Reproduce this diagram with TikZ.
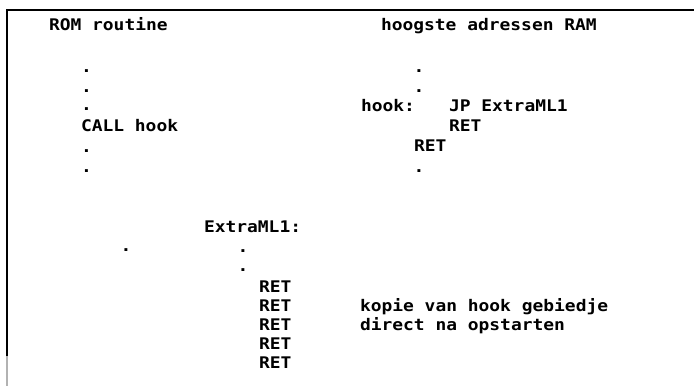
\documentclass[tikz,border=0pt]{standalone}
\usepackage{fontspec}
\newfontfamily\msxfont[FakeStretch=1.12]{DejaVu Sans Mono}
\usepackage{tikz}
\usetikzlibrary{positioning}
\tikzstyle{crt}=[anchor=base west, inner sep=0pt, outer sep=0pt, font=\msxfont\bfseries\fontsize{16}{16}\selectfont]

\begin{document}
\begin{tikzpicture}[x=1pt,y=-1pt]
			\useasboundingbox (0,0) rectangle (694,386);
			% frame of the screen print
			\draw[line width=2pt] (694,10) -- (7,10) -- (7,356);
			\draw[line width=2pt,gray!60] (7,356) -- (7,386);

			% ROM side
			\node[crt] (romlbl) at (49,30) {ROM routine};
			\node[crt] (romdot1) at (81,72) {.};
			\node[crt] (romdot2) at (81,92) {.};
			\node[crt] (romdot3) at (81,110) {.};
			\node[crt] (call) at (81,131) {CALL hook};
			\node[crt] (romdot4) at (81,152) {.};
			\node[crt] (romdot5) at (81,172) {.};

			% RAM side
			\node[crt] (ramlbl) at (381,30) {hoogste adressen RAM};
			\node[crt] (ramdot1) at (413.5,72) {.};
			\node[crt] (ramdot2) at (413.5,92) {.};
			\node[crt] (hook) at (361,111) {hook:};
			\node[crt] (jp) at (449,111) {JP ExtraML1};
			\node[crt] (hookret1) at (449,131) {RET};
			\node[crt] (hookret2) at (414,151) {RET};
			\node[crt] (ramdot3) at (413.5,172) {.};

			% extra routine
			\node[crt] (extra) at (204,232) {ExtraML1:};
			\node[crt] (stray) at (120.5,251) {.};
			\node[crt] (extradot1) at (237.5,252.5) {.};
			\node[crt] (extradot2) at (237.5,271.5) {.};
			\node[crt] (ret1) at (259,292) {RET};
			\node[crt] (ret2) at (259,311) {RET};
			\node[crt] (ret3) at (259,330) {RET};
			\node[crt] (ret4) at (259,349) {RET};
			\node[crt] (ret5) at (259,368) {RET};

			\node[crt] (kopie) at (360,311) {kopie van hook gebiedje};
			\node[crt] (direct) at (360,330) {direct na opstarten};
		\end{tikzpicture}
\end{document}
